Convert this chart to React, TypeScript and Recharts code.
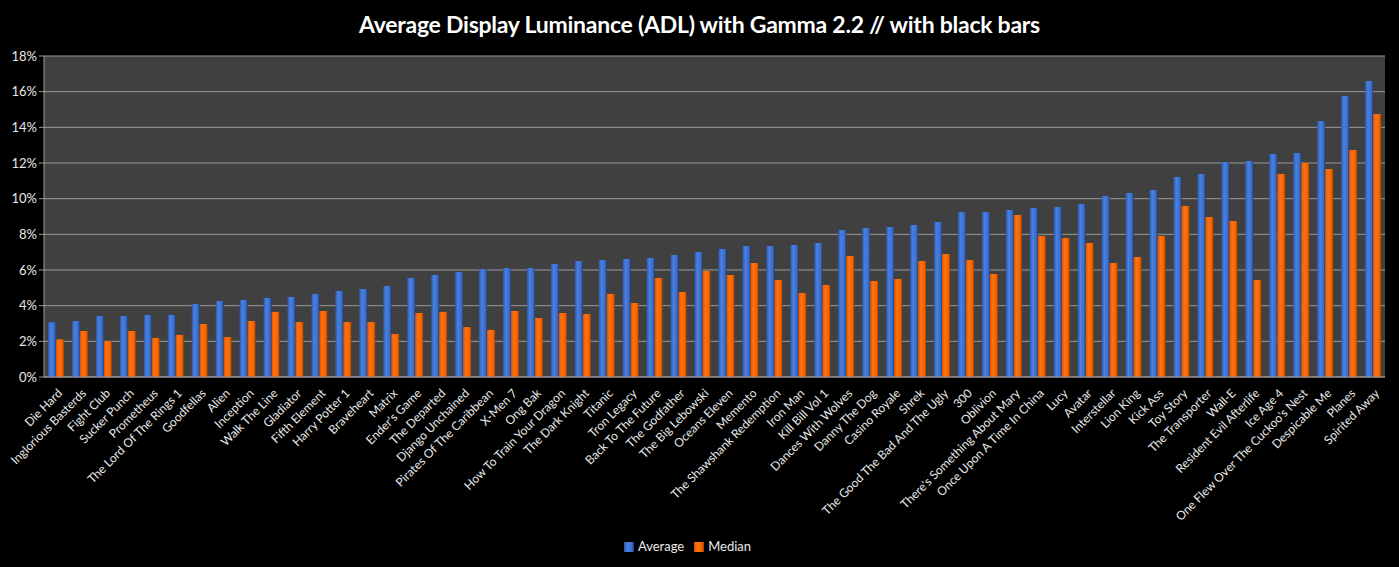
import { BarChart, Bar, XAxis, YAxis, CartesianGrid, Legend } from "recharts";

const categories = [
  "Die Hard", "Inglorious Basterds", "Fight Club", "Sucker Punch", "Prometheus",
  "The Lord Of The Rings 1", "Goodfellas", "Alien", "Inception", "Walk The Line",
  "Gladiator", "Fifth Element", "Harry Potter 1", "Braveheart", "Matrix",
  "Ender's Game", "The Departed", "Django Unchained", "Pirates Of The Caribbean", "X-Men 7",
  "Ong Bak", "How To Train Your Dragon", "The Dark Knight", "Titanic", "Tron Legacy",
  "Back To The Future", "The Godfather", "The Big Lebowski", "Oceans Eleven", "Memento",
  "The Shawshank Redemption", "Iron Man", "Kill Bill Vol 1", "Dances With Wolves", "Danny The Dog",
  "Casino Royale", "Shrek", "The Good The Bad And The Ugly", "300", "Oblivion",
  "There's Something About Mary", "Once Upon A Time In China", "Lucy", "Avatar", "Interstellar",
  "Lion King", "Kick Ass", "Toy Story", "The Transporter", "Wall-E",
  "Resident Evil Afterlife", "Ice Age 4", "One Flew Over The Cuckoo's Nest", "Despicable Me", "Planes",
  "Spirited Away",
];

const average = [
  3.07, 3.14, 3.42, 3.42, 3.48, 3.48, 4.09, 4.26, 4.32, 4.43,
  4.49, 4.66, 4.82, 4.94, 5.1, 5.55, 5.72, 5.89, 6.06, 6.11,
  6.11, 6.34, 6.51, 6.56, 6.62, 6.67, 6.84, 7.01, 7.18, 7.35,
  7.35, 7.4, 7.52, 8.24, 8.36, 8.41, 8.52, 8.69, 9.25, 9.25,
  9.37, 9.48, 9.53, 9.7, 10.15, 10.32, 10.49, 11.22, 11.39, 12.06,
  12.11, 12.51, 12.56, 14.36, 15.76, 16.6,
];

const median = [
  2.11, 2.58, 2.02, 2.58, 2.19, 2.36, 2.97, 2.24, 3.14, 3.65,
  3.08, 3.7, 3.08, 3.08, 2.41, 3.59, 3.65, 2.8, 2.64, 3.7,
  3.31, 3.59, 3.53, 4.66, 4.15, 5.55, 4.77, 5.94, 5.72, 6.39,
  5.44, 4.71, 5.16, 6.79, 5.38, 5.5, 6.51, 6.9, 6.56, 5.78,
  9.09, 7.91, 7.8, 7.52, 6.39, 6.73, 7.91, 9.59, 8.97, 8.75,
  5.44, 11.39, 12.0, 11.67, 12.73, 14.75,
];

const yTicks = [0, 2, 4, 6, 8, 10, 12, 14, 16, 18];

const data = categories.map((name, i) => ({ name, average: average[i], median: median[i] }));

const FONT = "Lato, 'Open Sans', sans-serif";

function RotatedTick({ x, y, payload }: any) {
  return (
    <g transform={`translate(${x + 1},${y + 3})`}>
      <text x={0} y={0} dy="0.71em" textAnchor="end" fill="#e8e8e8" fontSize={12} fontFamily={FONT} transform="rotate(-45)">
        {payload.value}
      </text>
    </g>
  );
}

export default function App() {
  return (
    <div style={{ position: "absolute", left: 0, top: 0, width: 1399, height: 567, background: "#000", fontFamily: FONT }}>
      <div
        style={{
          position: "absolute",
          top: 10,
          left: 0,
          width: 1399,
          textAlign: "center",
          color: "#fff",
          fontWeight: 700,
          fontSize: 23,
          letterSpacing: -0.25,
        }}
      >
        Average Display Luminance (ADL) with Gamma 2.2 // with black bars
      </div>
      <BarChart
        width={1399}
        height={567}
        data={data}
        margin={{ top: 56, right: 14, left: 0, bottom: 8 }}
        barSize={8}
        barGap={0}
        style={{ position: "absolute", left: 0, top: 0 }}
      >
        <defs>
          <linearGradient id="gBlue" x1="0" y1="0" x2="1" y2="0">
            <stop offset="0" stopColor="#2c58aa" />
            <stop offset="0.35" stopColor="#4a80e0" />
            <stop offset="0.8" stopColor="#3a6cc8" />
            <stop offset="1" stopColor="#1d3b78" />
          </linearGradient>
          <linearGradient id="gOrange" x1="0" y1="0" x2="1" y2="0">
            <stop offset="0" stopColor="#d85400" />
            <stop offset="0.35" stopColor="#ff7212" />
            <stop offset="0.8" stopColor="#f26200" />
            <stop offset="1" stopColor="#9a3c00" />
          </linearGradient>
        </defs>
        <CartesianGrid vertical={false} stroke="#9a9a9a" strokeWidth={1} fill="#404040" />
        <XAxis
          dataKey="name"
          interval={0}
          height={158}
          tick={<RotatedTick />}
          tickLine={false}
          axisLine={{ stroke: "#9a9a9a" }}
        />
        <YAxis
          width={44}
          domain={[0, 18]}
          ticks={yTicks}
          interval={0}
          tickFormatter={(v: number) => `${v}%`}
          tick={{ fill: "#e8e8e8", fontSize: 13, fontFamily: FONT }}
          tickLine={{ stroke: "#9a9a9a" }}
          tickSize={5}
          axisLine={{ stroke: "#9a9a9a" }}
        />
        <Legend
          verticalAlign="bottom"
          height={24}
          iconType="square"
          iconSize={10}
          formatter={(value: string) => <span style={{ color: "#e8e8e8", fontSize: 13, fontFamily: FONT }}>{value}</span>}
        />
        <Bar dataKey="average" name="Average" fill="url(#gBlue)" isAnimationActive={false} />
        <Bar dataKey="median" name="Median" fill="url(#gOrange)" isAnimationActive={false} />
      </BarChart>
    </div>
  );
}
